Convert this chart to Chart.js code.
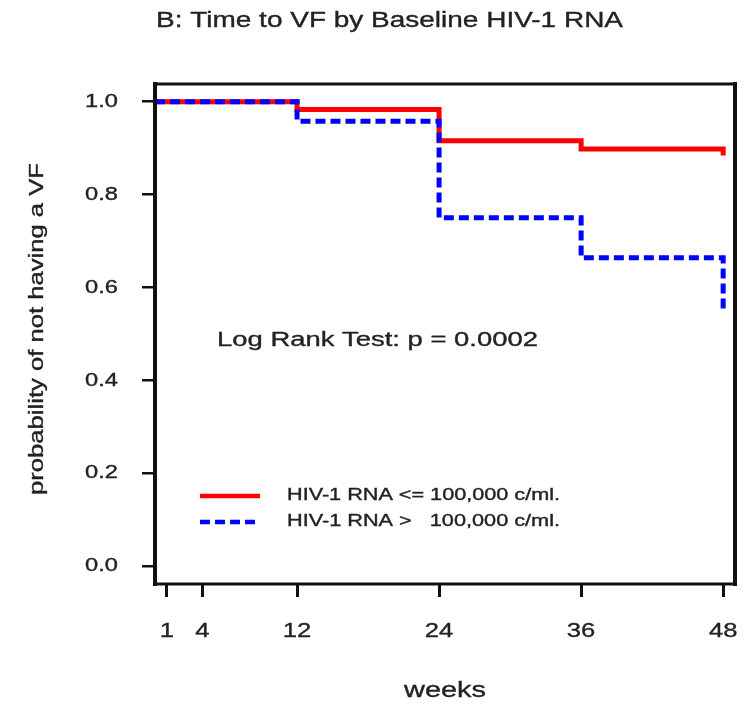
<!DOCTYPE html>
<html><head><meta charset="utf-8">
<script src="https://cdn.jsdelivr.net/npm/chart.js@4.4.1/dist/chart.umd.min.js"></script>
<style>html,body{margin:0;padding:0;background:#fff;} #wrap{width:745px;height:704px;position:relative;}</style>
</head><body><div id="wrap"><canvas id="c"></canvas></div>
<script>
const titleText = 'B: Time to VF by Baseline HIV-1 RNA';
const xAxisTitle = 'weeks';
const yAxisTitle = 'probability of not having a VF';
const annotationText = 'Log Rank Test: p = 0.0002';
const weeks = [0, 12, 24, 36, 48];
const lowLabel = 'HIV-1 RNA <= 100,000 c/ml.';
const highLabel = 'HIV-1 RNA >   100,000 c/ml.';
const lowValues = [1.0, 0.983, 0.916, 0.898, 0.884];
const highValues = [1.0, 0.958, 0.750, 0.664, 0.553];
const xTickValues = [1, 4, 12, 24, 36, 48];
const xTickLabels = ['1', '4', '12', '24', '36', '48'];
const yTickValues = [0, 0.2, 0.4, 0.6, 0.8, 1.0];
const yTickLabels = ['0.0', '0.2', '0.4', '0.6', '0.8', '1.0'];

const FONT = '"Liberation Sans", Arial, Helvetica, sans-serif';
const TEXT = '#222222';

function drawText(ctx, text, x, y, size, o) {
  ctx.save();
  ctx.font = size + 'px ' + FONT;
  ctx.fillStyle = TEXT;
  ctx.strokeStyle = TEXT;
  ctx.lineWidth = 0.35;
  ctx.textBaseline = o.baseline || 'middle';
  ctx.textAlign = o.align || 'left';
  ctx.translate(x, y);
  if (o.rotate) ctx.rotate(o.rotate);
  const w = ctx.measureText(text).width;
  const sx = o.width ? o.width / w : (o.sx || 1);
  ctx.scale(sx, 1);
  ctx.fillText(text, 0, 0);
  ctx.strokeText(text, 0, 0);
  ctx.restore();
}

const decor = {
  id: 'decor',
  afterDatasetsDraw(chart) {
    const ctx = chart.ctx;
    const a = chart.chartArea;
    ctx.save();
    ctx.strokeStyle = '#111';
    ctx.lineCap = 'square';
    ctx.lineWidth = 3;
    ctx.beginPath();
    ctx.moveTo(a.left, a.top); ctx.lineTo(a.right, a.top);
    ctx.moveTo(a.left, a.bottom); ctx.lineTo(a.right, a.bottom);
    ctx.stroke();
    ctx.lineWidth = 4;
    ctx.beginPath();
    ctx.moveTo(a.left, a.top); ctx.lineTo(a.left, a.bottom);
    ctx.moveTo(a.right, a.top); ctx.lineTo(a.right, a.bottom);
    ctx.stroke();
    ctx.restore();

    // legend
    const ds = chart.data.datasets;
    const rows = [[ds[0], 496], [ds[1], 522]];
    rows.forEach(([d, y]) => {
      ctx.save();
      ctx.strokeStyle = d.borderColor;
      ctx.lineWidth = 4.5;
      ctx.setLineDash(d.borderDash || []);
      ctx.beginPath();
      ctx.moveTo(200, y); ctx.lineTo(260, y);
      ctx.stroke();
      ctx.restore();
      drawText(ctx, d.label, 287, y, 16, {width: 273});
    });

    drawText(ctx, annotationText, 217, 340, 20.5, {width: 321});
  },
  afterDraw(chart) {
    const ctx = chart.ctx;
    const xs = chart.scales.x, ys = chart.scales.y;
    drawText(ctx, titleText, 389.5, 21, 22, {align: 'center', width: 467});
    yTickValues.forEach((v, i) => {
      drawText(ctx, yTickLabels[i], 118, ys.getPixelForValue(v), 18.5, {align: 'right', sx: 1.28});
    });
    xTickValues.forEach((v, i) => {
      drawText(ctx, xTickLabels[i], xs.getPixelForValue(v), 631, 21, {align: 'center', sx: 1.22});
    });
    drawText(ctx, xAxisTitle, 445, 697, 22, {align: 'center', baseline: 'alphabetic', width: 82});
    drawText(ctx, yAxisTitle, 43, 329, 20, {align: 'center', baseline: 'alphabetic', rotate: -Math.PI / 2, width: 332});
  }
};

const toPoints = vals => weeks.map((w, i) => ({x: w, y: vals[i]}));

new Chart(document.getElementById('c'), {
  type: 'line',
  data: {
    datasets: [
      {label: lowLabel, data: toPoints(lowValues), borderColor: '#ff0000', borderWidth: 5,
       stepped: 'before', pointRadius: 0, fill: false, order: 2, borderCapStyle: 'butt'},
      {label: highLabel, data: toPoints(highValues), borderColor: '#0000ff', borderWidth: 5,
       borderDash: [10, 5], stepped: 'before', pointRadius: 0, fill: false, order: 1, borderCapStyle: 'butt'}
    ]
  },
  options: {
    responsive: true,
    maintainAspectRatio: false,
    animation: false,
    devicePixelRatio: 1,
    layout: {padding: {left: 0, top: 84, right: 10, bottom: 0}},
    plugins: {legend: {display: false}, tooltip: {enabled: false}, title: {display: false}},
    scales: {
      x: {
        type: 'linear', min: 0, max: 49,
        afterBuildTicks: s => { s.ticks = xTickValues.map(v => ({value: v})); },
        afterFit: s => { s.height = 120; },
        ticks: {display: false},
        grid: {drawOnChartArea: false, drawTicks: true, tickLength: 13, color: '#111', lineWidth: 3},
        border: {display: false}
      },
      y: {
        type: 'linear', min: -0.038, max: 1.038,
        afterBuildTicks: s => { s.ticks = yTickValues.map(v => ({value: v})); },
        afterFit: s => { s.width = 155; },
        ticks: {display: false},
        grid: {drawOnChartArea: false, drawTicks: true, tickLength: 13, color: '#111', lineWidth: 2.5},
        border: {display: false}
      }
    }
  },
  plugins: [decor]
});
</script>
</body></html>
